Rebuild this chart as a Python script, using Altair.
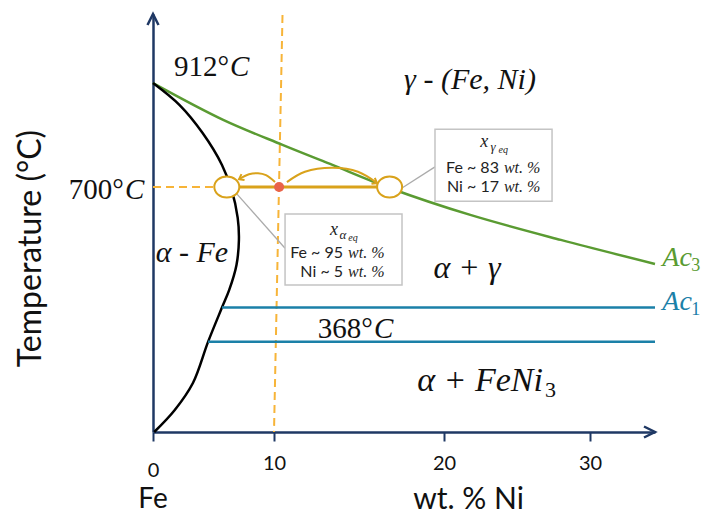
import altair as alt
import pandas as pd

NAVY = "#1F3864"
GREEN = "#5A9B32"
BLUE = "#1B80A8"
GOLD = "#D9A21B"
DASH = "#F7B438"
RED = "#E9634A"
GREY = "#ABABAB"
INK = "#111111"

# ---- scale anchors (wt.% Ni axis is drawn non-uniformly in the original) ----
x_ticks = [0, 10, 20, 30]
x_domain = [0, 10, 20, 30, 34.45]
x_range = [0, 121, 291, 437, 502]
t_domain = [200, 1053]

# ---- phase boundaries ----
ac3_ni = [0, 5.8, 10.5, 13.3, 16.8, 21.8, 28.0, 34.45]
ac3_t = [912, 837, 786, 747, 698, 643, 592, 543]

alpha_ni = [0, 2.2, 4.1, 5.7, 6.5, 7.0, 7.1, 6.9, 6.3, 5.7, 4.55, 3.3, 1.8, 0.1]
alpha_t = [912, 867, 810, 745, 694, 637, 592, 541, 490, 454, 384, 300, 245, 200]

ac1_ni = [5.7, 34.45]
ac1_t = [454, 454]
low_ni = [4.55, 34.45]
low_t = [384, 384]

# ---- 700 °C construction ----
dash_v_ni = [10.5, 10.0]
dash_v_t = [1051, 200]
dash_h_ni = [0, 5.1]
dash_h_t = [700, 700]
tie_ni = [6.1, 16.8]
tie_t = [700, 700]
circ_ni = [6.1, 16.8]
circ_t = [700, 700]
dot_ni = [10.3]
dot_t = [700]
arcL_ni = [10.06, 9.34, 8.68, 7.93, 7.11]
arcL_t = [710, 724, 728, 726, 716]
arcR_ni = [10.76, 11.82, 13.47, 14.94, 16.06]
arcR_t = [710, 731, 739, 731, 708]
head_ni = [7.11, 16.06]
head_t = [716, 708]
head_ang = [153, 30]

# ---- callouts ----
leadG_ni = [17.53, 19.47]
leadG_t = [698, 741]
leadA_ni = [6.78, 10.65]
leadA_t = [690, 575]
box_ni = [19.47, 10.65]
box_ni2 = [27.4, 17.53]
box_t = [671, 500]
box_t2 = [818, 645]
box_pivot_ni = [23.9, 23.9, 14.18, 14.18]
box_line_t = [739, 700, 565, 527]
box_left = ["Fe ~ 83", "Ni ~ 17", "Fe ~ 95", "Ni ~ 5"]
box_right = ["wt. %", "wt. %", "wt. %", "wt. %"]
sym_ni = [23.3, 14.0]
sym_t = [792, 612]
sym_greek = ["γ", "α"]

XS = alt.Scale(domain=x_domain, range=x_range, zero=False, nice=False)
YS = alt.Scale(domain=t_domain, zero=False, nice=False)

XA = alt.Axis(
    values=x_ticks, title="wt. % Ni", grid=False,
    titleFont="Lato", titleFontSize=30, titleFontWeight="normal", titleColor=INK,
    titleX=315, titleY=76, titleBaseline="alphabetic", titleAlign="center",
    labelFont="Lato", labelFontSize=20, labelColor=INK,
    labelPadding={"condition": {"test": "datum.value === 0", "value": 19}, "value": 12},
    tickSize=9, tickWidth=2, tickColor=NAVY, domainColor=NAVY, domainWidth=2.5,
    labelFlush=False, labelOverlap=False,
)
YA = alt.Axis(
    title="Temperature (°C)", labels=False, ticks=False, grid=False,
    domainColor=NAVY, domainWidth=2.5,
    titleFont="Lato", titleFontSize=32, titleFontWeight="normal", titleColor=INK,
    titleAngle=270, titleX=-123, titleY=234, titleBaseline="middle", titleAlign="center",
)


def enc(ch, **kw):
    return ch.encode(
        x=alt.X("ni:Q", scale=XS, axis=XA),
        y=alt.Y("t:Q", scale=YS, axis=YA),
        **kw,
    )


def df(ni, t, **extra):
    d = pd.DataFrame({"ni": ni, "t": t})
    d["i"] = range(len(d))
    for k, v in extra.items():
        d[k] = v
    return d


layers = []

# dashed construction lines
layers.append(enc(alt.Chart(df(dash_v_ni, dash_v_t)).mark_line(color=DASH, strokeWidth=2, strokeDash=[8, 5]), order="i:Q"))
layers.append(enc(alt.Chart(df(dash_h_ni, dash_h_t)).mark_line(color=DASH, strokeWidth=2, strokeDash=[8, 5]), order="i:Q"))

# phase boundaries
layers.append(enc(alt.Chart(df(ac3_ni, ac3_t)).mark_line(color=GREEN, strokeWidth=2.5, interpolate="catmull-rom"), order="i:Q"))
layers.append(enc(alt.Chart(df(alpha_ni, alpha_t)).mark_line(color="#000000", strokeWidth=2.5, interpolate="catmull-rom"), order="i:Q"))
blue = pd.concat([df(ac1_ni, ac1_t, g="ac1"), df(low_ni, low_t, g="low")])
layers.append(enc(alt.Chart(blue).mark_line(color=BLUE, strokeWidth=2.5), detail="g:N", order="i:Q"))

# leaders
leads = pd.concat([df(leadG_ni, leadG_t, g="g"), df(leadA_ni, leadA_t, g="a")])
layers.append(enc(alt.Chart(leads).mark_line(color=GREY, strokeWidth=1.3), detail="g:N", order="i:Q"))

# tie line and arcs
layers.append(enc(alt.Chart(df(tie_ni, tie_t)).mark_line(color=GOLD, strokeWidth=3), order="i:Q"))
arcs = pd.concat([df(arcL_ni, arcL_t, g="L"), df(arcR_ni, arcR_t, g="R")])
layers.append(enc(alt.Chart(arcs).mark_line(color=GOLD, strokeWidth=2, interpolate="catmull-rom"), detail="g:N", order="i:Q"))
heads = df(head_ni, head_t, ang=head_ang)
layers.append(enc(alt.Chart(heads).mark_point(shape="M -1 -0.75 L 0 0 L -1 0.75", filled=False, color=GOLD,
                                              strokeWidth=2, size=80, opacity=1), angle=alt.Angle("ang:Q", scale=None)))

# circles & point
ellipse = "M -1 0 A 1 0.84 0 1 0 1 0 A 1 0.84 0 1 0 -1 0 Z"
layers.append(enc(alt.Chart(df(circ_ni, circ_t)).mark_point(shape=ellipse, filled=True, fill="white", stroke=GOLD,
                                                            strokeWidth=2, size=625, opacity=1)))
layers.append(enc(alt.Chart(df(dot_ni, dot_t)).mark_point(shape="circle", filled=True, color=RED, size=100, opacity=1)))

# callout boxes
boxes = pd.DataFrame({"ni": box_ni, "ni2": box_ni2, "t": box_t, "t2": box_t2})
layers.append(enc(alt.Chart(boxes).mark_rect(fill="white", stroke="#C4C4C4", strokeWidth=1.5), x2="ni2:Q", y2="t2:Q"))

bl = pd.DataFrame({"ni": box_pivot_ni, "t": box_line_t, "l": box_left, "r": box_right})
layers.append(enc(alt.Chart(bl).mark_text(font="Lato", fontSize=16, color="#222", align="right", baseline="middle", dx=-2), text="l:N"))
layers.append(enc(alt.Chart(bl).mark_text(font="Liberation Serif", fontStyle="italic", fontSize=16, color="#222", align="left", baseline="middle", dx=3), text="r:N"))

sym = pd.DataFrame({"ni": sym_ni, "t": sym_t, "x": ["x", "x"], "gk": sym_greek, "eq": ["eq", "eq"]})
layers.append(enc(alt.Chart(sym).mark_text(font="Liberation Serif", fontStyle="italic", fontSize=18, color="#222", baseline="middle", dx=-8), text="x:N"))
layers.append(enc(alt.Chart(sym).mark_text(font="Liberation Serif", fontStyle="italic", fontSize=13, color="#222", baseline="middle", dx=1, dy=5), text="gk:N"))
layers.append(enc(alt.Chart(sym).mark_text(font="Liberation Serif", fontStyle="italic", fontSize=10, color="#222", baseline="middle", dx=11, dy=8), text="eq:N"))

# region / temperature labels
deg_lbl = pd.DataFrame({"ni": [6.28, -2.4, 15.82], "t": [945, 694, 410], "a": ["912°", "700°", "368°"], "c": ["C", "C", "C"]})
layers.append(enc(alt.Chart(deg_lbl).mark_text(font="Liberation Serif", fontSize=29, color=INK, align="right", baseline="middle"), text="a:N"))
layers.append(enc(alt.Chart(deg_lbl).mark_text(font="Liberation Serif", fontStyle="italic", fontSize=29, color=INK, align="left", baseline="middle", dx=1), text="c:N"))

region = pd.DataFrame({"ni": [21.78, 3.22, 21.58], "t": [918, 565, 535], "s": ["γ  - (Fe, Ni)", "α - Fe", "α  +  γ"],
                       "fs": [30, 30, 32]})
layers.append(enc(alt.Chart(region).mark_text(font="Liberation Serif", fontStyle="italic", color=INK, align="center", baseline="middle"),
                  text="s:N", size=alt.Size("fs:Q", scale=None)))

feni = pd.DataFrame({"ni": [26.78], "t": [304], "s": ["α   +   FeNi"], "sub": ["3"]})
layers.append(enc(alt.Chart(feni).mark_text(font="Liberation Serif", fontStyle="italic", fontSize=34, color=INK, align="right", baseline="middle"), text="s:N"))
layers.append(enc(alt.Chart(feni).mark_text(font="Liberation Serif", fontSize=22, color=INK, align="left", baseline="middle", dx=2, dy=9), text="sub:N"))

acs = pd.DataFrame({"ni": [34.95, 34.95], "t": [555, 465], "s": ["Ac", "Ac"], "sub": ["3", "1"], "col": [GREEN, BLUE]})
layers.append(enc(alt.Chart(acs).mark_text(font="Liberation Serif", fontStyle="italic", fontSize=28, align="left", baseline="middle"),
                  text="s:N", color=alt.Color("col:N", scale=None)))
layers.append(enc(alt.Chart(acs).mark_text(font="Liberation Serif", fontSize=18, align="left", baseline="middle", dx=29, dy=8),
                  text="sub:N", color=alt.Color("col:N", scale=None)))

fe = pd.DataFrame({"ni": [0], "t": [45], "s": ["Fe"]})
layers.append(enc(alt.Chart(fe).mark_text(font="Lato", fontSize=28, color=INK, align="center", baseline="alphabetic"), text="s:N"))

# axis arrowheads
ax_heads = pd.DataFrame({"ni": [0, 34.45], "t": [1053, 200], "ang": [270, 0]})
layers.append(enc(alt.Chart(ax_heads).mark_point(shape="M -2 -1 L 0 0 L -2 1", filled=False, color=NAVY, strokeWidth=2.5,
                                                 size=121, opacity=1), angle=alt.Angle("ang:Q", scale=None)))

chart = alt.layer(*layers).properties(
    width=502, height=418,
    autosize=alt.AutoSizeParams(type="none"),
    padding={"left": 145, "top": 6, "right": 48, "bottom": 80},
).configure_view(stroke=None)

chart.save("out.html", embed_options={"renderer": "svg", "actions": False})
